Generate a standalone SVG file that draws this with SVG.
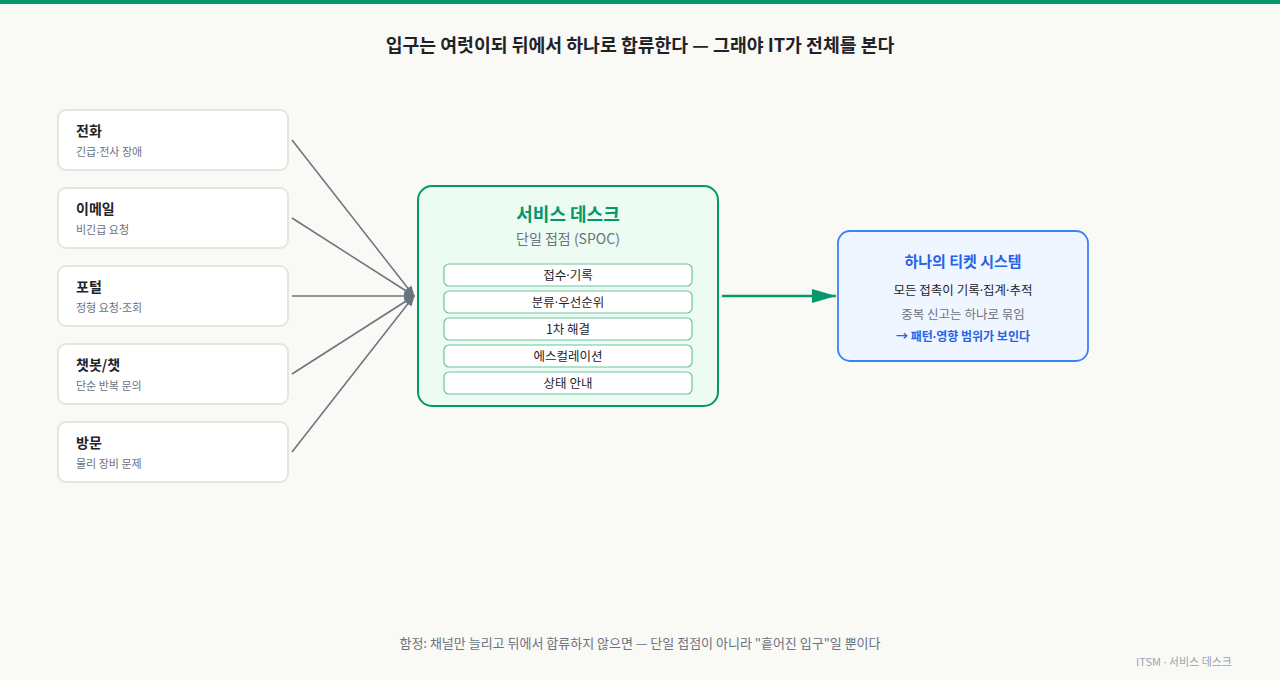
<svg xmlns="http://www.w3.org/2000/svg" width="1280" height="680" viewBox="0 0 1280 680">
<defs>
<style>
text{font-family:"Noto Sans CJK KR","Noto Sans",sans-serif;}
.d{font-family:"Noto Sans",sans-serif;}
.ch rect{fill:#ffffff;stroke:#e6e6e0;stroke-width:2;}
.ct{font-size:14px;font-weight:700;fill:#1f2328;}
.cs{font-size:11px;fill:#6b7280;}
.row rect{fill:#ffffff;stroke:#6cc4a0;stroke-width:1.2;}
.row text{font-size:12.5px;fill:#1f2328;text-anchor:middle;}
.in{stroke:#6b7280;stroke-width:1.5;fill:none;}
</style>
<marker id="ag" viewBox="0 0 10 10" refX="9" refY="5" markerWidth="11" markerHeight="11" orient="auto" markerUnits="userSpaceOnUse">
<path d="M0,1 L10,5 L0,9 Z" fill="#6b7280"/>
</marker>
<marker id="agr" viewBox="0 0 24 16" refX="24" refY="8" markerWidth="24" markerHeight="16" orient="auto" markerUnits="userSpaceOnUse">
<path d="M0,1 L24,8 L0,15 Z" fill="#059669"/>
</marker>
</defs>
<rect width="1280" height="680" fill="#f9f9f6"/>
<rect width="1280" height="4" fill="#059669"/>
<text x="640" y="52" text-anchor="middle" font-size="18.3" font-weight="700" fill="#1f2328">입구는 여럿이되 뒤에서 하나로 합류한다 — 그래야 IT가 전체를 본다</text>

<g id="connectors">
<line class="in" x1="292" y1="140" x2="414" y2="296" marker-end="url(#ag)"/>
<line class="in" x1="292" y1="218" x2="414" y2="296" marker-end="url(#ag)"/>
<line class="in" x1="292" y1="296" x2="414" y2="296" marker-end="url(#ag)"/>
<line class="in" x1="292" y1="374" x2="414" y2="296" marker-end="url(#ag)"/>
<line class="in" x1="292" y1="452" x2="414" y2="296" marker-end="url(#ag)"/>
<line x1="722" y1="296" x2="836" y2="296" stroke="#059669" stroke-width="2.5" marker-end="url(#agr)"/>
</g>

<g id="ch-phone" class="ch"><rect x="58" y="110" width="230" height="60" rx="8"/><text class="ct" x="76" y="136">전화</text><text class="cs" x="76" y="156">긴급<tspan class="d">·</tspan>전사 장애</text></g>
<g id="ch-email" class="ch"><rect x="58" y="188" width="230" height="60" rx="8"/><text class="ct" x="76" y="214">이메일</text><text class="cs" x="76" y="234">비긴급 요청</text></g>
<g id="ch-portal" class="ch"><rect x="58" y="266" width="230" height="60" rx="8"/><text class="ct" x="76" y="292">포털</text><text class="cs" x="76" y="312">정형 요청<tspan class="d">·</tspan>조회</text></g>
<g id="ch-chat" class="ch"><rect x="58" y="344" width="230" height="60" rx="8"/><text class="ct" x="76" y="370">챗봇/챗</text><text class="cs" x="76" y="390">단순 반복 문의</text></g>
<g id="ch-visit" class="ch"><rect x="58" y="422" width="230" height="60" rx="8"/><text class="ct" x="76" y="448">방문</text><text class="cs" x="76" y="468">물리 장비 문제</text></g>

<g id="service-desk">
<rect x="418" y="186" width="300" height="220" rx="14" fill="#ecfcf3" stroke="#059669" stroke-width="2"/>
<text x="568" y="221" text-anchor="middle" font-size="18" font-weight="700" fill="#059669">서비스 데스크</text>
<text x="568" y="244" text-anchor="middle" font-size="14" fill="#6b7280">단일 접점 (SPOC)</text>
<g class="row"><rect x="444" y="264" width="248" height="22" rx="5"/><text x="568" y="279.5">접수<tspan class="d">·</tspan>기록</text></g>
<g class="row"><rect x="444" y="291" width="248" height="22" rx="5"/><text x="568" y="306.5">분류<tspan class="d">·</tspan>우선순위</text></g>
<g class="row"><rect x="444" y="318" width="248" height="22" rx="5"/><text x="568" y="333.5">1차 해결</text></g>
<g class="row"><rect x="444" y="345" width="248" height="22" rx="5"/><text x="568" y="360.5">에스컬레이션</text></g>
<g class="row"><rect x="444" y="372" width="248" height="22" rx="5"/><text x="568" y="387.5">상태 안내</text></g>
</g>

<g id="ticket-system">
<rect x="838" y="231" width="250" height="130" rx="12" fill="#eff6ff" stroke="#3b82f6" stroke-width="1.8"/>
<text x="963" y="267" text-anchor="middle" font-size="15" font-weight="700" fill="#2563eb">하나의 티켓 시스템</text>
<text x="963" y="295" text-anchor="middle" font-size="12.5" fill="#1f2328">모든 접촉이 기록<tspan class="d">·</tspan>집계<tspan class="d">·</tspan>추적</text>
<text x="963" y="319" text-anchor="middle" font-size="12.5" fill="#6b7280">중복 신고는 하나로 묶임</text>
<text x="963" y="341" text-anchor="middle" font-size="12" font-weight="700" fill="#2563eb">→ 패턴<tspan class="d">·</tspan>영향 범위가 보인다</text>
</g>

<text x="640" y="648" text-anchor="middle" font-size="13" fill="#6b7280">함정: 채널만 늘리고 뒤에서 합류하지 않으면 — 단일 접점이 아니라 "흩어진 입구"일 뿐이다</text>
<text x="1232" y="666" text-anchor="end" font-size="11" fill="#9ca3af">ITSM <tspan class="d">·</tspan> 서비스 데스크</text>
</svg>
